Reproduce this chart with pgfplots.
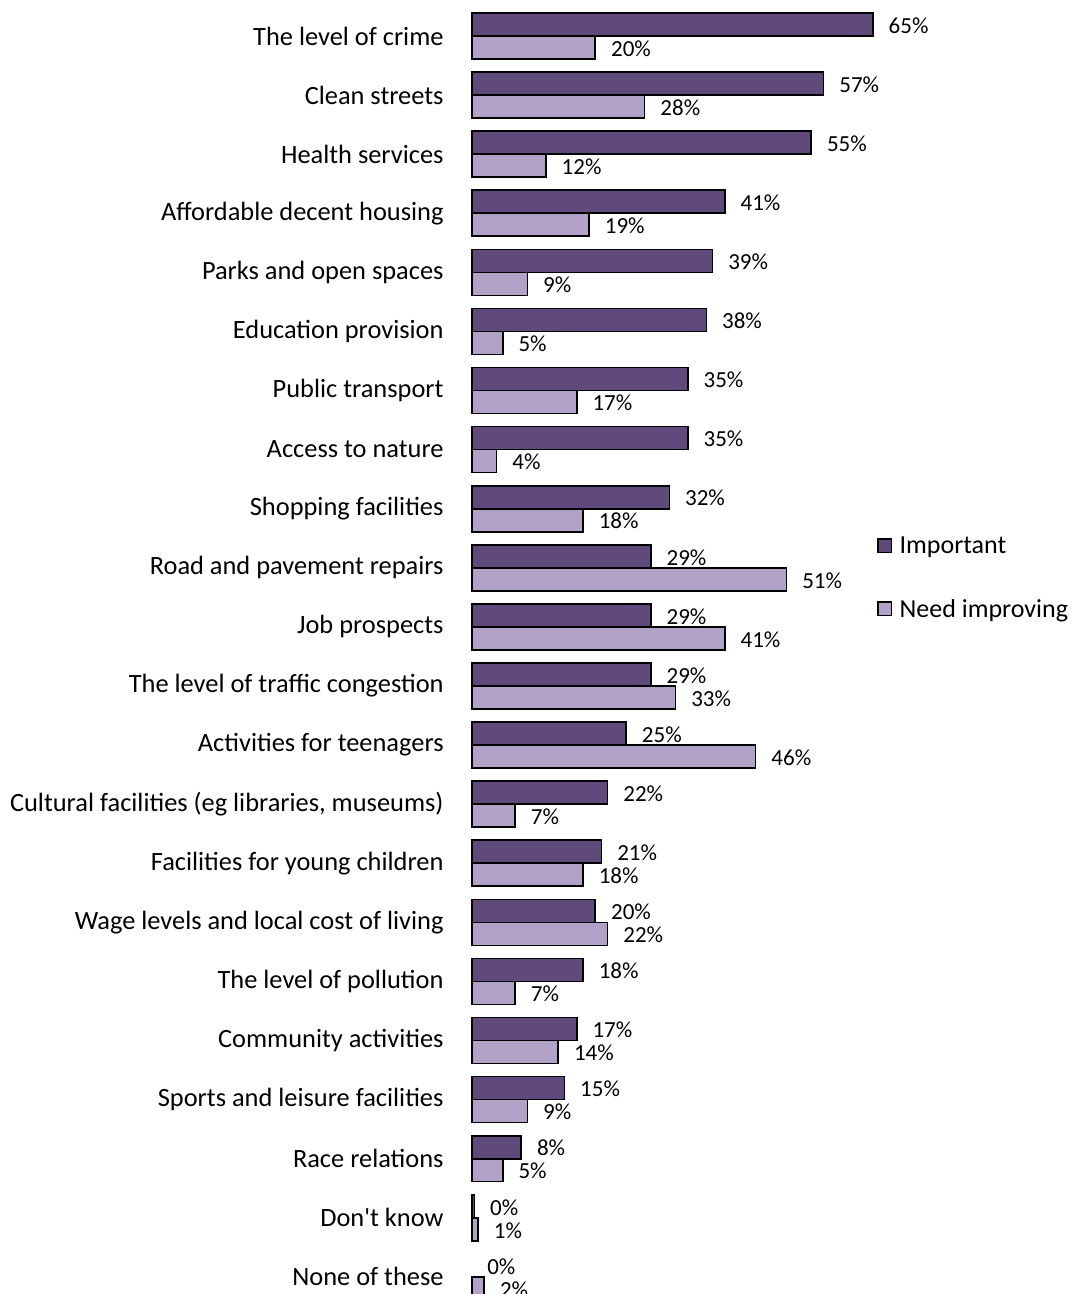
\documentclass[border=0pt]{standalone}
\usepackage{fontspec}
\setmainfont{Carlito}
\usepackage{pgfplots}
\pgfplotsset{compat=1.18}
\definecolor{darkp}{HTML}{604A7B}
\definecolor{lightp}{HTML}{B3A2C7}
\newcommand{\sq}{\XeTeXglyph\XeTeXcharglyph"0027\relax}
\pgfplotstableread{
idx imp need
0 65 20
1 57 28
2 55 12
3 41 19
4 39 9
5 38 5
6 35 17
7 35 4
8 32 18
9 29 51
10 29 41
11 29 33
12 25 46
13 22 7
14 21 18
15 20 22
16 18 7
17 17 14
18 15 9
19 8 5
20 0.4 1
}\datatable
\pgfplotstableread{
idx imp need
21 0 2
}\lasttable
\begin{document}
\begin{tikzpicture}
\begin{axis}[
  xbar, y dir=reverse,
  x=3.085pt, y=29.55pt,
  xmin=0, xmax=70, ymin=-0.609, ymax=21.29,
  enlargelimits=false,
  clip=false,
  hide x axis,
  axis y line*=left, y axis line style={draw=none},
  major tick length=0pt,
  /pgf/number format/assume math mode=true,
  ytick={0,...,21},
  yticklabels={The level of crime, Clean streets, Health services, Affordable decent housing, Parks and open spaces, Education provision, Public transport, Access to nature, Shopping facilities, Road and pavement repairs, Job prospects, The level of traffic congestion, Activities for teenagers, {Cultural facilities (eg libraries, museums)}, Facilities for young children, Wage levels and local cost of living, The level of pollution, Community activities, Sports and leisure facilities, Race relations, Don\sq t know, None of these},
  yticklabel style={font=\fontsize{13.2}{15}\selectfont, anchor=east, inner sep=0pt, xshift=-14pt},
  bar width=11.5pt,
  point meta=x,
  nodes near coords={\pgfmathprintnumber[fixed,precision=0]{\pgfplotspointmeta}\%},
  nodes near coords style={font=\fontsize{11.5}{13}\selectfont, anchor=west, inner sep=0pt, xshift=7.5pt, yshift=-0.5pt},
  legend style={draw=none, fill=none, at={(axis cs:65.6,9.165)}, anchor=west, inner sep=0pt, row sep=23pt, font=\fontsize{13}{15}\selectfont,
    nodes={inner sep=0pt, text depth=0pt}},
  legend cell align=left,
]
\addplot[fill=darkp, draw=black, line width=0.8pt, bar shift=5.75pt,
  legend image code/.code={\draw[fill=darkp, draw=black, line width=0.8pt] (0pt,-3.4pt) rectangle (6.8pt,3.4pt); \path (10.5pt,0pt);}]
  table[x=imp, y=idx] {\datatable};
\addlegendentry{Important}
\addplot[fill=lightp, draw=black, line width=0.8pt, bar shift=-5.75pt,
  legend image code/.code={\draw[fill=lightp, draw=black, line width=0.8pt] (0pt,-3.4pt) rectangle (6.8pt,3.4pt); \path (10.5pt,0pt);}]
  table[x=need, y=idx] {\datatable};
\addlegendentry{Need improving}
\addplot[forget plot, fill=none, draw=none, bar shift=5.75pt]
  table[x=imp, y=idx] {\lasttable};
\addplot[forget plot, fill=lightp, draw=black, line width=0.8pt, bar shift=-5.75pt]
  table[x=need, y=idx] {\lasttable};
\coordinate (tl) at (axis cs:-76.5,-0.609);
\coordinate (br) at (axis cs:97.4,21.29);
\end{axis}
\pgfresetboundingbox
\path[use as bounding box] (tl) rectangle (br);
\end{tikzpicture}
\end{document}
